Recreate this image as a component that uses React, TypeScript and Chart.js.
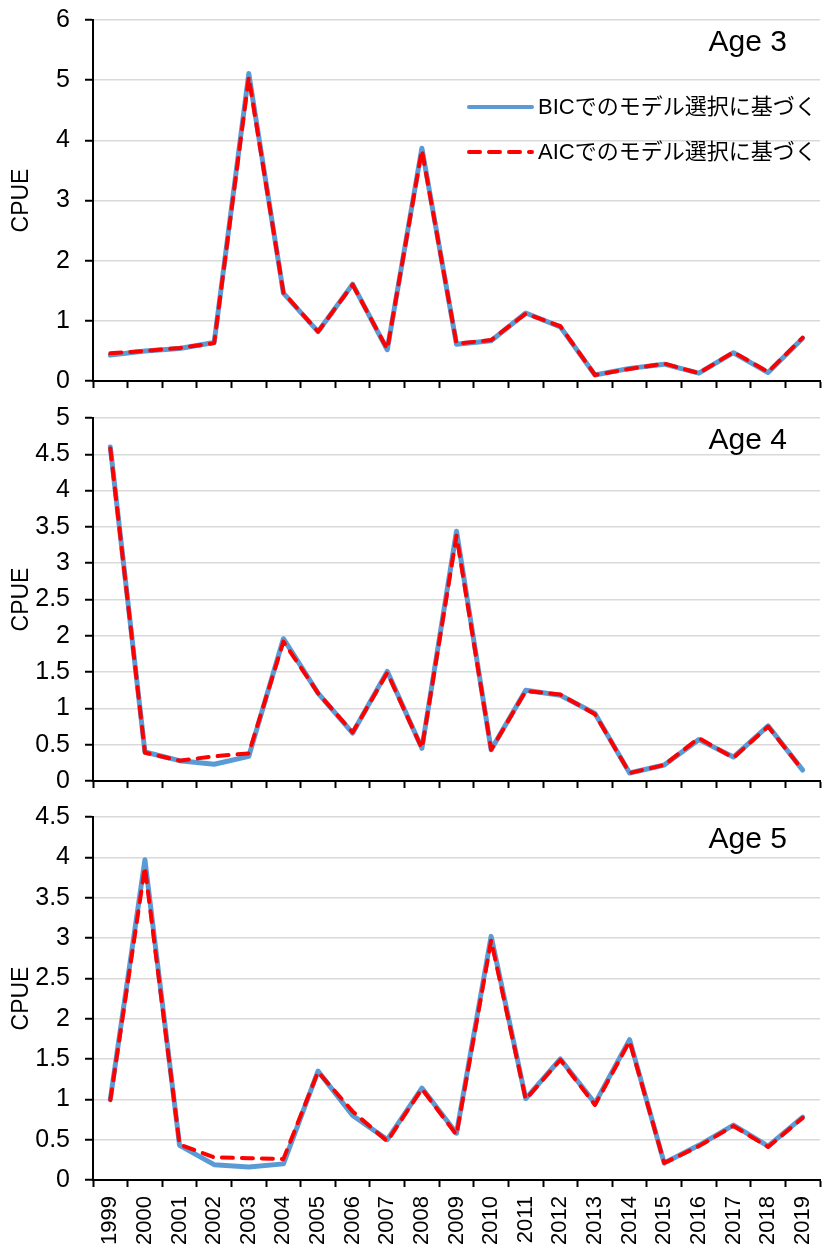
import React, { useEffect, useRef } from 'react';
import { Chart, registerables } from 'chart.js';

Chart.register(...registerables);

const years = ['1999', '2000', '2001', '2002', '2003', '2004', '2005', '2006', '2007', '2008', '2009', '2010', '2011', '2012', '2013', '2014', '2015', '2016', '2017', '2018', '2019'];

const bicLabel = 'BICでのモデル選択に基づく';
const aicLabel = 'AICでのモデル選択に基づく';

const age3Bic = [0.43, 0.50, 0.54, 0.64, 5.11, 1.46, 0.82, 1.61, 0.52, 3.87, 0.61, 0.67, 1.13, 0.90, 0.10, 0.21, 0.28, 0.13, 0.47, 0.14, 0.71];
const age3Aic = [0.46, 0.50, 0.55, 0.63, 5.05, 1.47, 0.82, 1.60, 0.53, 3.84, 0.62, 0.68, 1.12, 0.91, 0.10, 0.20, 0.29, 0.13, 0.48, 0.15, 0.72];

const age4Bic = [4.60, 0.40, 0.28, 0.23, 0.34, 1.96, 1.21, 0.66, 1.51, 0.45, 3.44, 0.43, 1.25, 1.18, 0.93, 0.11, 0.22, 0.57, 0.33, 0.76, 0.15];
const age4Aic = [4.58, 0.39, 0.28, 0.34, 0.38, 1.92, 1.21, 0.67, 1.49, 0.45, 3.38, 0.43, 1.24, 1.19, 0.92, 0.11, 0.22, 0.59, 0.32, 0.75, 0.15];

const age5Bic = [1.00, 3.97, 0.43, 0.19, 0.16, 0.20, 1.35, 0.80, 0.50, 1.14, 0.58, 3.02, 1.01, 1.50, 0.95, 1.74, 0.21, 0.43, 0.68, 0.42, 0.78];
const age5Aic = [0.99, 3.88, 0.44, 0.28, 0.27, 0.26, 1.34, 0.85, 0.48, 1.13, 0.56, 2.97, 1.00, 1.49, 0.93, 1.72, 0.21, 0.42, 0.67, 0.41, 0.77];

const panelLabels = ['Age 3', 'Age 4', 'Age 5'];
const yMaxes = [6, 5, 4.5];
const ySteps = [1, 0.5, 0.5];

const LATIN = "'Liberation Sans', Arial, sans-serif";
const MIXED = "'Liberation Sans', 'Noto Sans CJK JP', sans-serif";

Chart.defaults.font.family = LATIN;
Chart.defaults.color = '#000';

const decorPlugin = {
  id: 'panelDecor',
  afterDatasetsDraw(chart: any, _args: any, opts: any) {
    const { ctx, chartArea } = chart;
    ctx.save();
    ctx.fillStyle = '#000';
    ctx.font = `30px ${LATIN}`;
    ctx.textAlign = 'right';
    ctx.textBaseline = 'alphabetic';
    ctx.fillText(opts.label, chartArea.right - 33, chartArea.top + 31);
    if (opts.legend) {
      chart.data.datasets.forEach((ds: any, i: number) => {
        const y = chartArea.top + 87 + i * 45;
        const x0 = chartArea.right - 351;
        const x1 = x0 + 63;
        ctx.strokeStyle = ds.borderColor;
        ctx.lineWidth = 4;
        ctx.lineCap = 'round';
        ctx.setLineDash(ds.borderDash || []);
        ctx.beginPath();
        ctx.moveTo(x0, y);
        ctx.lineTo(x1, y);
        ctx.stroke();
        ctx.setLineDash([]);
        ctx.font = `22px ${MIXED}`;
        ctx.textAlign = 'left';
        ctx.textBaseline = 'middle';
        ctx.fillStyle = '#000';
        ctx.fillText(ds.label, x1 + 6, y + 1);
      });
    }
    ctx.restore();
  },
};

type PanelProps = {
  top: number;
  height: number;
  padTop: number;
  xHeight: number;
  bic: number[];
  aic: number[];
  yMax: number;
  step: number;
  label: string;
  showLegend: boolean;
  showXLabels: boolean;
};

function Panel(p: PanelProps) {
  const ref = useRef<HTMLCanvasElement>(null);
  useEffect(() => {
    if (!ref.current) return;
    const chart = new Chart(ref.current, {
      type: 'line',
      data: {
        labels: years,
        datasets: [
          {
            label: bicLabel,
            data: p.bic,
            borderColor: '#5b9bd5',
            backgroundColor: '#5b9bd5',
            borderWidth: 5,
            borderCapStyle: 'round',
            borderJoinStyle: 'round',
            pointRadius: 0,
            tension: 0,
            order: 2,
          },
          {
            label: aicLabel,
            data: p.aic,
            borderColor: '#ff0000',
            backgroundColor: '#ff0000',
            borderWidth: 4,
            borderDash: [11, 9],
            borderCapStyle: 'round',
            borderJoinStyle: 'round',
            pointRadius: 0,
            tension: 0,
            order: 1,
          },
        ],
      },
      options: {
        responsive: false,
        animation: false,
        events: [],
        layout: { padding: { top: p.padTop, right: 6, left: 0, bottom: 0 } },
        plugins: {
          legend: { display: false },
          tooltip: { enabled: false },
          panelDecor: { label: p.label, legend: p.showLegend },
        } as any,
        scales: {
          x: {
            type: 'category',
            offset: true,
            grid: {
              display: true,
              drawOnChartArea: false,
              drawTicks: true,
              tickLength: 7,
              tickColor: '#000',
              tickWidth: 2,
              offset: true,
              color: '#000',
            },
            border: { display: true, color: '#000', width: 2, z: 1 },
            ticks: {
              display: p.showXLabels,
              autoSkip: false,
              maxRotation: 90,
              minRotation: 90,
              padding: 9,
              color: '#000',
              font: { size: 22, family: LATIN },
            },
            afterFit: (s: any) => {
              s.height = p.xHeight;
              s.paddingLeft = 0;
              s.paddingRight = 0;
            },
          },
          y: {
            min: 0,
            max: p.yMax,
            ticks: {
              stepSize: p.step,
              padding: 15,
              color: '#000',
              font: { size: 25, family: LATIN },
              callback: (v: any) => String(Math.round(Number(v) * 10) / 10),
            },
            grid: {
              color: (c: any) => (c.tick && c.tick.value === 0 ? 'rgba(0,0,0,0)' : '#d9d9d9'),
              lineWidth: 1.5,
              tickColor: '#000',
              tickLength: 8,
              tickWidth: 2,
            },
            border: { display: true, color: '#000', width: 2, z: 1 },
            title: {
              display: true,
              text: 'CPUE',
              color: '#000',
              font: { size: 23, family: LATIN },
              padding: { top: 8, bottom: 0 },
            },
            afterFit: (s: any) => {
              s.width = 93;
              s.paddingTop = 0;
              s.paddingBottom = 0;
            },
          },
        } as any,
      },
      plugins: [decorPlugin as any],
    });
    return () => chart.destroy();
  }, []);
  return (
    <canvas
      ref={ref}
      width={826}
      height={p.height}
      style={{ position: 'absolute', left: 0, top: p.top, width: 826, height: p.height }}
    />
  );
}

export default function App() {
  return (
    <div style={{ position: 'absolute', left: 0, top: 0, width: 826, height: 1250, background: '#fff' }}>
      <Panel top={0} height={400} padTop={20} xHeight={19} bic={age3Bic} aic={age3Aic} yMax={yMaxes[0]} step={ySteps[0]} label={panelLabels[0]} showLegend={true} showXLabels={false} />
      <Panel top={400} height={400} padTop={18} xHeight={19} bic={age4Bic} aic={age4Aic} yMax={yMaxes[1]} step={ySteps[1]} label={panelLabels[1]} showLegend={false} showXLabels={false} />
      <Panel top={800} height={450} padTop={17} xHeight={70} bic={age5Bic} aic={age5Aic} yMax={yMaxes[2]} step={ySteps[2]} label={panelLabels[2]} showLegend={false} showXLabels={true} />
    </div>
  );
}
